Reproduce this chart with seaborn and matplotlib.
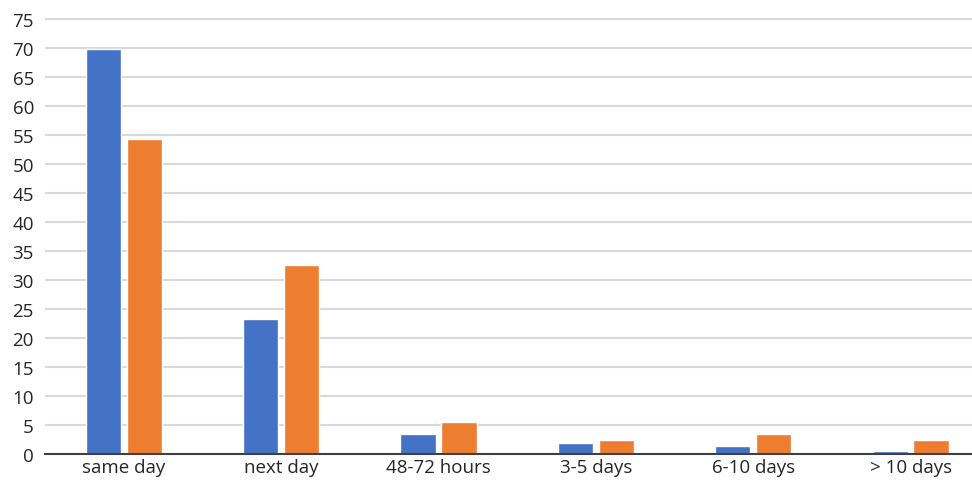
import matplotlib
matplotlib.use("Agg")
import matplotlib.pyplot as plt
import seaborn as sns
import pandas as pd

categories = ["same day", "next day", "48-72 hours", "3-5 days", "6-10 days", "> 10 days"]
series_a = [69.9, 23.3, 3.4, 1.9, 1.4, 0.5]
series_b = [54.3, 32.6, 5.5, 2.4, 3.4, 2.4]
series_names = ["A", "B"]
yticks = list(range(0, 80, 5))

df = pd.DataFrame({
    "category": categories * 2,
    "value": series_a + series_b,
    "series": [series_names[0]] * len(categories) + [series_names[1]] * len(categories),
})

sns.set_theme(style="white")
plt.rcParams['font.family'] = ['Open Sans', 'DejaVu Sans']

fig = plt.figure(figsize=(9.72, 4.81), dpi=100)
ax = fig.add_axes([45 / 972, 26 / 481, 1 - 45 / 972, (455 - 19) / 481])

sns.barplot(data=df, x="category", y="value", hue="series", order=categories,
            hue_order=series_names, palette=["#4472C4", "#ED7D31"],
            width=0.52, gap=0.14, saturation=1, legend=False, ax=ax)

ax.set_ylim(0, 75.2)
ax.set_xlim(-0.5, 5.39)
ax.set_yticks(yticks)
ax.set_yticklabels([str(t) for t in yticks])
ax.yaxis.grid(True, color="#D9D9D9", linewidth=1.5)
ax.set_axisbelow(True)
for s in ["left", "right", "top"]:
    ax.spines[s].set_visible(False)
ax.spines["bottom"].set_color("#404040")
ax.spines["bottom"].set_linewidth(1.5)
ax.set_xlabel("")
ax.set_ylabel("")
ax.tick_params(axis="both", length=0, labelsize=13.5, colors="#262626", pad=3)
ax.tick_params(axis="y", pad=8)

fig.savefig("out.png", dpi=100)
